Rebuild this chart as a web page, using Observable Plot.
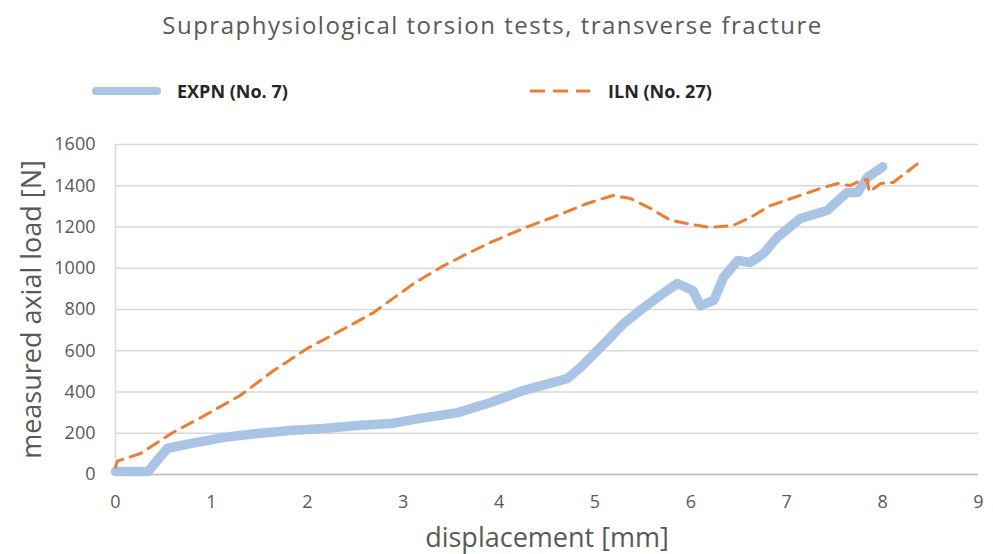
<!DOCTYPE html>
<html><head><meta charset="utf-8">
<script src="https://cdn.jsdelivr.net/npm/d3@7"></script>
<script src="https://cdn.jsdelivr.net/npm/@observablehq/plot@0.6"></script>
<style>
body{margin:0;background:#fff;font-family:"Open Sans",sans-serif;}
#wrap{position:relative;width:993px;height:554px;overflow:hidden;background:#fff}
#title{position:absolute;top:8px;left:-4px;width:993px;text-align:center;font-size:24px;letter-spacing:1.5px;color:#595959;line-height:34px}
.leg{position:absolute;top:79px;height:24px;display:flex;align-items:center;font-weight:bold;font-size:18px;color:#262626}
.leg svg{margin-right:16px}
#plot{position:absolute;top:110px;left:0}
</style></head>
<body><div id="wrap">
<div id="title">Supraphysiological torsion tests, transverse fracture</div>
<div class="leg" style="left:91px"><svg width="70" height="24"><line x1="5" y1="12" x2="66" y2="12" stroke="#aac4e6" stroke-width="8" stroke-linecap="round"/></svg><span>EXPN (No. 7)</span></div>
<div class="leg" style="left:530px"><svg width="62" height="24"><line x1="0" y1="12" x2="60" y2="12" stroke="#ed7d31" stroke-width="3" stroke-dasharray="15,8"/></svg><span>ILN (No. 27)</span></div>
<div id="plot"></div>
</div>
<script>
const xTicks = [0,1,2,3,4,5,6,7,8,9];
const yTicks = [0,200,400,600,800,1000,1200,1400,1600];

const expnX = [0,0.34,0.42,0.54,0.78,1.13,1.48,1.82,2.17,2.52,2.87,3.18,3.57,3.91,4.25,4.71,4.85,5.13,5.30,5.47,5.71,5.86,6.02,6.10,6.24,6.34,6.49,6.62,6.76,6.90,7.14,7.42,7.63,7.74,7.84,8.0];
const expnY = [15,15,60,126,150,180,199,213,223,238,247,272,300,349,407,465,519,650,732,795,878,926,892,819,844,955,1038,1028,1072,1149,1241,1280,1367,1367,1440,1492];

const ilnX = [0,0.02,0.26,0.6,0.89,1.30,1.65,2.0,2.35,2.69,3.11,3.39,3.63,3.91,4.15,4.33,4.61,4.92,5.19,5.37,5.58,5.79,5.96,6.20,6.44,6.62,6.83,7.14,7.35,7.53,7.66,7.77,7.84,7.86,7.98,8.11,8.36];
const ilnY = [35,65,102,204,276,383,504,611,698,785,926,1004,1062,1125,1173,1207,1256,1314,1353,1338,1290,1232,1217,1198,1207,1246,1304,1353,1387,1411,1401,1425,1430,1370,1411,1416,1505];

const expn = expnX.map((x,i)=>({x, y: expnY[i]}));
const iln = ilnX.map((x,i)=>({x, y: ilnY[i]}));

const chart = Plot.plot({
  width: 993, height: 444,
  marginTop: 34, marginBottom: 80, marginLeft: 115, marginRight: 15,
  x: {domain:[0,9]},
  y: {domain:[0,1600]},
  style: {fontFamily: "Open Sans", fontSize: "18px", color: "#595959", background: "#fff"},
  marks: [
    Plot.gridY(yTicks, {stroke:"#d9d9d9", strokeOpacity:1, strokeWidth:1.5}),
    Plot.ruleX([0], {stroke:"#d9d9d9", strokeWidth:1.5}),
    Plot.ruleY([0], {stroke:"#bfbfbf", strokeWidth:1.5}),
    Plot.axisY(yTicks, {tickSize:0, tickPadding:20, fontSize:18, label:null, fill:"#595959", tickFormat: d => String(d)}),
    Plot.axisX(xTicks, {tickSize:0, tickPadding:21, fontSize:18, label:null, fill:"#595959", tickFormat: d => String(d)}),
    Plot.line(expn, {x:"x", y:"y", stroke:"#aac4e6", strokeWidth:9.5, strokeLinecap:"round", strokeLinejoin:"round"}),
    Plot.line(iln, {x:"x", y:"y", stroke:"#ed7d31", strokeWidth:3, strokeDasharray:"12,8"}),
    Plot.text(["measured axial load [N]"], {frameAnchor:"left", textAnchor:"middle", dx:-83, dy:0, rotate:-90, fontSize:27, fill:"#595959"}),
    Plot.text(["displacement [mm]"], {frameAnchor:"bottom", dx:0, dy:72, fontSize:27, fill:"#595959"})
  ]
});
document.getElementById("plot").appendChild(chart);
</script>
</body></html>
